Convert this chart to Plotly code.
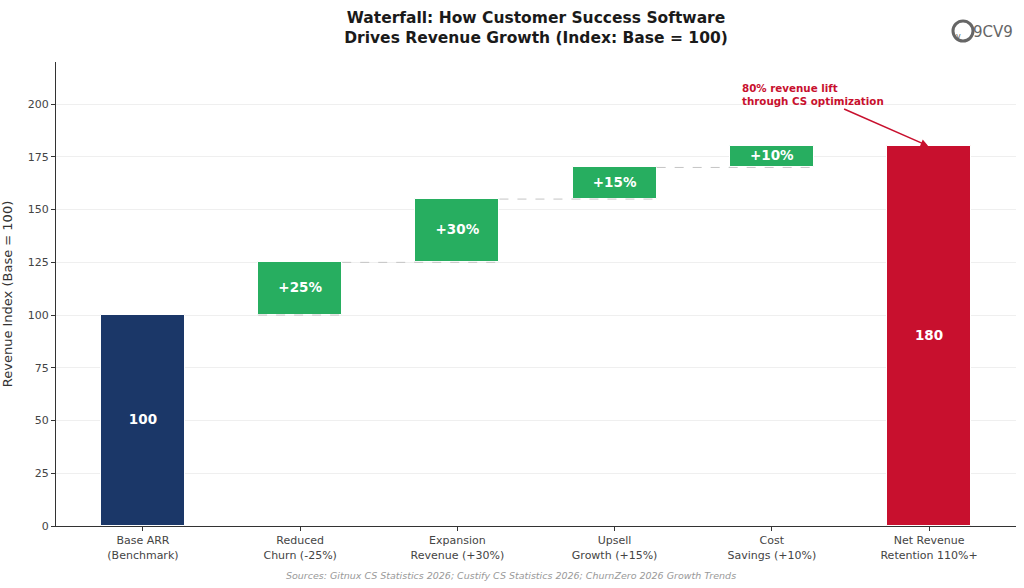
import plotly.graph_objects as go

categories = ["Base ARR<br>(Benchmark)", "Reduced<br>Churn (-25%)", "Expansion<br>Revenue (+30%)",
              "Upsell<br>Growth (+15%)", "Cost<br>Savings (+10%)", "Net Revenue<br>Retention 110%+"]
base_value = 100
deltas = [25, 30, 15, 10]
total_value = 180
delta_labels = ["+25%", "+30%", "+15%", "+10%"]
y_ticks = [0, 25, 50, 75, 100, 125, 150, 175, 200]

NAVY = "#1B3768"
GREEN = "#27AE60"
RED = "#C8102E"
FONT = "DejaVu Sans, Verdana, sans-serif"
BAR_W = 0.535

L, R, T, B = 56, 1016, 62, 526
def px(x):
    return (x - L) / (R - L)
def py(y):
    return (B - y) / (B - T)

xs = list(range(len(categories)))

bases = []
cum = base_value
for d in deltas:
    bases.append(cum)
    cum += d

fig = go.Figure()

for i, (b, d) in enumerate(zip(bases, deltas)):
    xi = i + 1
    x0 = xi - 1 + BAR_W / 2 if i > 0 else xi - BAR_W / 2
    fig.add_trace(go.Scatter(x=[x0, xi + BAR_W / 2], y=[b, b], mode="lines",
                             line=dict(color="#C4C4C4", width=1, dash="dash"),
                             hoverinfo="skip", showlegend=False))

fig.add_trace(go.Bar(x=[xs[0]], y=[base_value], width=BAR_W,
                     marker=dict(color=NAVY, line=dict(color="white", width=1)), showlegend=False))
fig.add_trace(go.Bar(x=xs[1:5], y=deltas, base=bases, width=BAR_W,
                     marker=dict(color=GREEN, line=dict(color="white", width=1)), showlegend=False))
fig.add_trace(go.Bar(x=[xs[5]], y=[total_value], width=BAR_W,
                     marker=dict(color=RED, line=dict(color="white", width=1)), showlegend=False))

# bar labels at bar midpoints
label_x = [xs[0]] + xs[1:5] + [xs[5]]
label_y = [base_value / 2] + [b + d / 2 for b, d in zip(bases, deltas)] + [total_value / 2]
label_t = [f"<b>{base_value}</b>"] + [f"<b>{t}</b>" for t in delta_labels] + [f"<b>{total_value}</b>"]
fig.add_trace(go.Scatter(x=label_x, y=label_y, text=label_t, mode="text",
                         textfont=dict(color="white", size=13.5, family=FONT),
                         hoverinfo="skip", showlegend=False))

fig.update_layout(
    width=1024, height=588,
    margin=dict(l=L, r=1024 - R, t=T, b=588 - B),
    paper_bgcolor="white", plot_bgcolor="white",
    font=dict(family=FONT, color="#444444", size=11),
    bargap=0,
    title=dict(text="<b>Waterfall: How Customer Success Software<br>Drives Revenue Growth (Index: Base = 100)</b>",
               x=(L + R) / 2 / 1024, xanchor="center", y=0.961, yanchor="top",
               font=dict(size=15.5, color="#1a1a1a", family=FONT)),
    xaxis=dict(range=[-0.553, 5.553], tickvals=xs, ticktext=categories, showgrid=False, zeroline=False,
               showline=True, linecolor="#333333", linewidth=1, ticks="outside", ticklen=4, tickcolor="#333333",
               tickfont=dict(size=11, color="#444444")),
    yaxis=dict(range=[0, 220], tickvals=y_ticks, showgrid=True, gridcolor="#EFEFEF", gridwidth=1, zeroline=False,
               showline=True, linecolor="#333333", linewidth=1, ticks="outside", ticklen=4, tickcolor="#333333",
               tickfont=dict(size=11, color="#444444"),
               title=dict(text="Revenue Index (Base = 100)", font=dict(size=13, color="#333333"), standoff=12)),
)

fig.add_annotation(x=5, y=total_value, ax=4.45, ay=198, xref="x", yref="y", axref="x", ayref="y",
                   text="", showarrow=True, arrowhead=2, arrowsize=1, arrowwidth=1.5, arrowcolor=RED, standoff=1)
fig.add_annotation(x=3.80, y=204.5, xref="x", yref="y", xanchor="left", yanchor="middle", align="left",
                   text="<b>80% revenue lift<br>through CS optimization</b>", showarrow=False,
                   font=dict(size=10.3, color=RED, family=FONT))

fig.add_annotation(x=px(511), y=py(575), xref="paper", yref="paper", xanchor="center", yanchor="middle",
                   text="<i>Sources: Gitnux CS Statistics 2026; Custify CS Statistics 2026; ChurnZero 2026 Growth Trends</i>",
                   showarrow=False, font=dict(size=9.5, color="#999999", family=FONT))

# logo
fig.add_shape(type="circle", xref="paper", yref="paper", x0=px(953), x1=px(973), y0=py(41), y1=py(21),
              line=dict(color="#666666", width=3))
fig.add_annotation(x=px(963), y=py(30), xref="paper", yref="paper", text="v", showarrow=False,
                   font=dict(size=8, color="#666666", family=FONT))
fig.add_annotation(x=px(971), y=py(32), xref="paper", yref="paper", xanchor="left", yanchor="middle",
                   text="9CV9", showarrow=False, font=dict(size=15, color="#666666", family=FONT))

fig.write_html("out.html")
